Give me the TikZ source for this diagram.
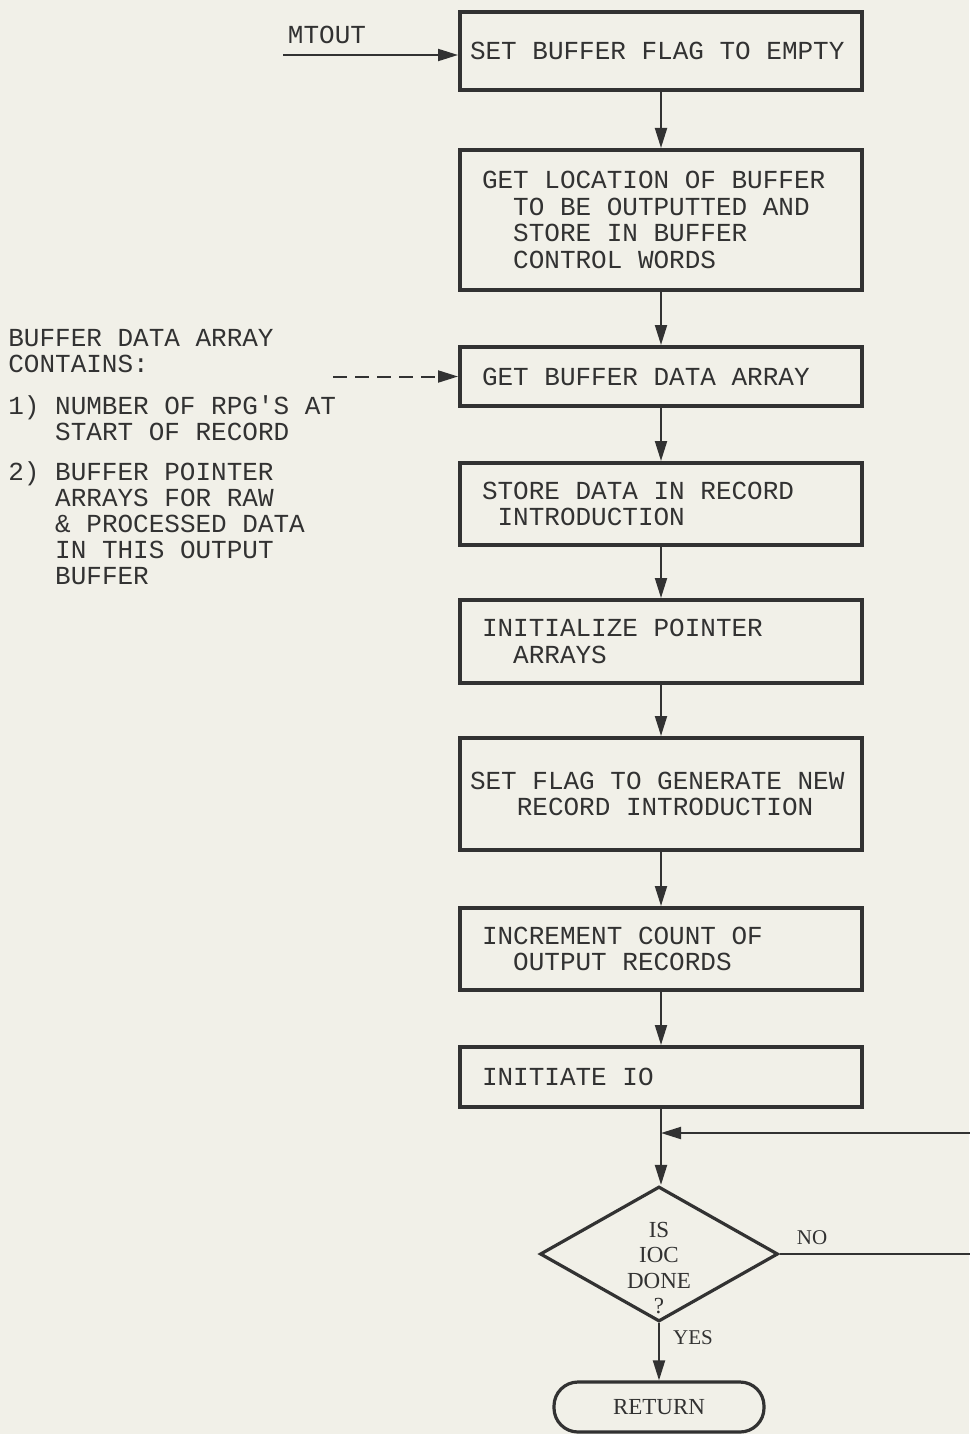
\documentclass[tikz,border=0pt]{standalone}
\usepackage{fontspec}
\setmonofont{Liberation Mono}
\newfontfamily\labelserif{Liberation Serif}
\usetikzlibrary{arrows.meta,shapes.geometric}
\definecolor{paper}{RGB}{241,240,232}
\definecolor{ink}{RGB}{50,50,50}
\tikzset{
  proc/.style={
    rectangle,
    draw=ink,
    line width=2pt,
    minimum width=201pt,
    text width=179pt,
    inner xsep=11pt,
    align=left,
    text=ink,
    font=\ttfamily\fontsize{13}{13.3}\selectfont,
    execute at begin node={\spaceskip=0pt\xspaceskip=0pt\relax}
  },
  proc wide/.style={
    proc,
    text width=191pt,
    inner xsep=5pt
  },
  decide/.style={
    diamond,
    draw=ink,
    line width=1.6pt,
    aspect=1.76,
    minimum width=119pt,
    minimum height=67.5pt,
    inner sep=0pt
  },
  decide text/.style={
    align=center,
    inner sep=0pt,
    yshift=-7pt,
    text=ink,
    font=\labelserif\fontsize{11.5}{12.6}\selectfont
  },
  term/.style={
    rectangle,
    rounded corners=12pt,
    draw=ink,
    line width=1.6pt,
    minimum width=105pt,
    minimum height=25pt,
    text=ink,
    font=\labelserif\fontsize{11.5}{13}\selectfont
  },
  tag/.style={
    text=ink,
    inner sep=0pt,
    font=\labelserif\fontsize{10.5}{12}\selectfont
  },
  note/.style={
    text=ink,
    inner sep=0pt,
    align=left,
    font=\ttfamily\fontsize{13}{13}\selectfont
  },
  flow/.style={
    draw=ink,
    line width=1pt,
    -{Triangle[length=10pt,width=6pt]}
  }
}
\begin{document}
\begin{tikzpicture}[x=0.5pt,y=-0.5pt]

  % page
  \fill[paper] (0,0) rectangle (969,1434);
  \useasboundingbox (0,0) rectangle (969,1434);

  % main column
  \node[proc wide, minimum height=39pt] (setflag) at (661,51) {SET BUFFER FLAG TO EMPTY};
  \node[proc, minimum height=70pt] (getloc) at (661,220) {GET LOCATION OF BUFFER\\~~TO BE OUTPUTTED AND\\~~STORE IN BUFFER\\~~CONTROL WORDS};
  \node[proc, minimum height=29.5pt] (getarr) at (661,376.5) {GET BUFFER DATA ARRAY};
  \node[proc, minimum height=41pt] (storedat) at (661,504) {STORE DATA IN RECORD\\~INTRODUCTION};
  \node[proc, minimum height=41.5pt] (initptr) at (661,641.5) {INITIALIZE POINTER\\~~ARRAYS};
  \node[proc wide, minimum height=56pt] (setnew) at (661,794) {SET FLAG TO GENERATE NEW\\~~~RECORD INTRODUCTION};
  \node[proc, minimum height=41pt] (incr) at (661,949) {INCREMENT COUNT OF\\~~OUTPUT RECORDS};
  \node[proc, minimum height=30pt] (initio) at (661,1077) {INITIATE IO};
  \node[decide, label={[decide text]center:{IS\\IOC\\DONE\\?}}] (iocdone) at (659,1254) {};
  \node[term] (ret) at (659,1407) {RETURN};

  % entry and side note
  \node[note] (mtoutlbl) at (327,35) {MTOUT};
  \coordinate (entry) at (283,55);
  \node[note, anchor=north west] (bdanote) at (8,329) {BUFFER DATA ARRAY\\CONTAINS:\\[8pt]1)~NUMBER OF RPG'S AT\\~~~START OF RECORD\\[7pt]2)~BUFFER POINTER\\~~~ARRAYS FOR RAW\\~~~\&~PROCESSED DATA\\~~~IN THIS OUTPUT\\~~~BUFFER};
  \coordinate (notetip) at (333,376.5);

  % connections
  \draw[flow] (entry) -- (entry -| setflag.west);
  \draw[flow, dash pattern=on 7pt off 4pt] (notetip) -- (notetip -| getarr.west);
  \draw[flow] (setflag) -- (getloc);
  \draw[flow] (getloc) -- (getarr);
  \draw[flow] (getarr) -- (storedat);
  \draw[flow] (storedat) -- (initptr);
  \draw[flow] (initptr) -- (setnew);
  \draw[flow] (setnew) -- (incr);
  \draw[flow] (incr) -- (initio);

  % wait loop
  \coordinate (join) at (661,1133);
  \coordinate (loopa) at (985,1254);
  \coordinate (loopb) at (985,1133);
  \draw[draw=ink, line width=1pt] (initio) -- (join);
  \draw[flow] (join) -- (join |- iocdone.north);
  \draw[flow] (iocdone.east) -- (loopa) -- (loopb) -- (join);
  \draw[flow] (iocdone) -- (ret);
  \node[tag] (nolbl) at (812,1238) {NO};
  \node[tag] (yeslbl) at (693,1338) {YES};

\end{tikzpicture}
\end{document}
